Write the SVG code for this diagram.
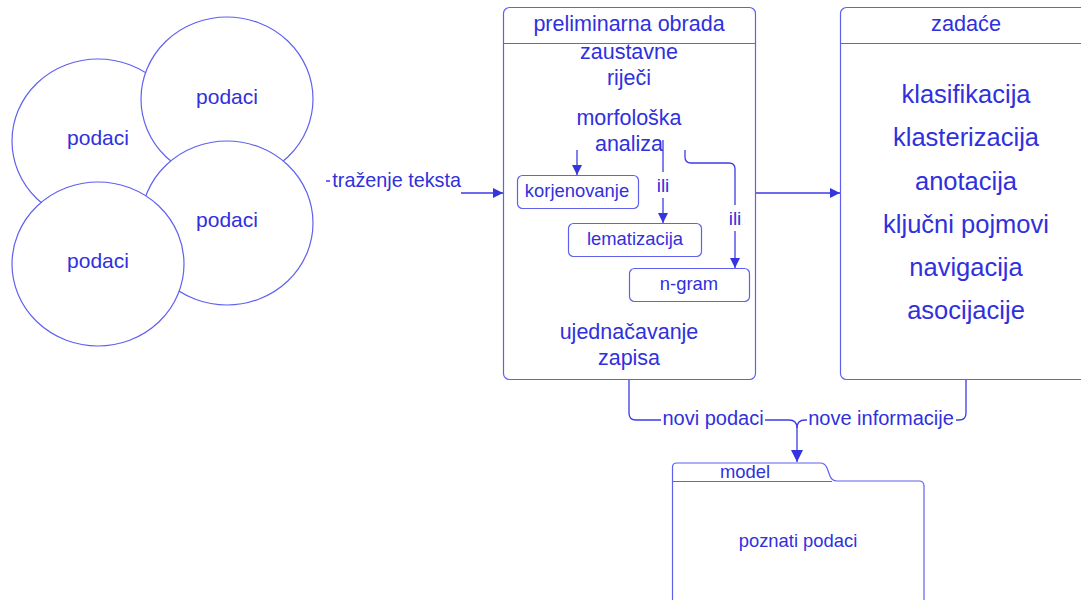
<svg xmlns="http://www.w3.org/2000/svg" width="1081" height="600" viewBox="0 0 1081 600">
<defs>
<marker id="arr" viewBox="0 0 10 10" refX="10" refY="5" markerWidth="12" markerHeight="10" markerUnits="userSpaceOnUse" orient="auto">
<path d="M0,0 L10,5 L0,10 z" fill="#3535e0"/>
</marker>
<marker id="arrL" viewBox="0 0 10 10" refX="10" refY="5" markerWidth="16" markerHeight="12" markerUnits="userSpaceOnUse" orient="auto">
<path d="M0,0 L10,5 L0,10 z" fill="#3535e0"/>
</marker>
</defs>
<style>
text{font-family:"Liberation Sans",Arial,sans-serif;fill:#3030dd;text-anchor:middle;dominant-baseline:central}
.shape{fill:#fff;stroke:#6060f0;stroke-width:1.2}
.conn{fill:none;stroke:#3b3be6;stroke-width:1.3}
.lbl{fill:#fff;stroke:none}
</style>
<rect width="1081" height="600" fill="#fff"/>

<g id="podaci1"><ellipse class="shape" cx="98" cy="141" rx="86" ry="82"/><text x="98" y="137" font-size="21">podaci</text></g>
<g id="podaci2"><ellipse class="shape" cx="227" cy="99" rx="86" ry="82"/><text x="227" y="96" font-size="21">podaci</text></g>
<g id="podaci3"><ellipse class="shape" cx="227" cy="223" rx="86" ry="82"/><text x="227" y="219" font-size="21">podaci</text></g>
<g id="podaci4"><ellipse class="shape" cx="98" cy="264" rx="86" ry="82"/><text x="98" y="260" font-size="21">podaci</text></g>

<g id="preliminarna">
<rect class="shape" x="503.5" y="7.5" width="252" height="372" rx="6"/>
<line class="shape" x1="503.5" y1="43.5" x2="755.5" y2="43.5"/>
<text x="629" y="24" font-size="21.5">preliminarna obrada</text>
<text x="629" y="52" font-size="21.5">zaustavne</text>
<text x="629" y="78" font-size="21.5">riječi</text>
<text x="629" y="118" font-size="21.5">morfološka</text>
<text x="629" y="144" font-size="21.5">analiza</text>
<text x="629" y="332" font-size="21.5">ujednačavanje</text>
<text x="629" y="358" font-size="21.5">zapisa</text>
</g>

<g id="korjenovanje"><rect class="shape" x="517.5" y="175.5" width="121" height="33" rx="5"/><text x="577" y="190" font-size="18.4">korjenovanje</text></g>
<g id="lematizacija"><rect class="shape" x="568.5" y="223.5" width="133" height="33" rx="5"/><text x="635" y="238" font-size="18.4">lematizacija</text></g>
<g id="ngram"><rect class="shape" x="629.5" y="268.5" width="120" height="33" rx="5"/><text x="689" y="283" font-size="18.4">n-gram</text></g>

<g id="zadace">
<rect class="shape" x="840.5" y="7.5" width="252" height="372" rx="6"/>
<line class="shape" x1="840.5" y1="43.5" x2="1092" y2="43.5"/>
<text x="966" y="23" font-size="21.7">zadaće</text>
<text x="966" y="94" font-size="25.5">klasifikacija</text>
<text x="966" y="137" font-size="25.5">klasterizacija</text>
<text x="966" y="181" font-size="25.5">anotacija</text>
<text x="966" y="224" font-size="25.5">ključni pojmovi</text>
<text x="966" y="267" font-size="25.5">navigacija</text>
<text x="966" y="310" font-size="25.5">asocijacije</text>
</g>

<g id="model">
<path class="shape" d="M672.5,600 V467 Q672.5,463 677,463 H820 Q825,463 827,468 L830,476 Q832,481 837,481 H919 Q924,481 924,486 V600"/>
<line class="shape" x1="672.5" y1="481.5" x2="832" y2="481.5"/>
<text x="745" y="471" font-size="18.4">model</text>
<text x="798" y="540" font-size="18.4">poznati podaci</text>
</g>

<g id="connectors">
<path class="conn" d="M326,181 H400 V193 H503" marker-end="url(#arr)"/>
<rect class="lbl" x="330" y="166" width="131" height="30"/>
<text x="461" y="180" font-size="19.8" style="text-anchor:end">traženje teksta</text>

<path class="conn" d="M756,193 H840" marker-end="url(#arr)"/>

<path class="conn" d="M577,150 V175" marker-end="url(#arr)"/>

<path class="conn" d="M663,140 V223" marker-end="url(#arr)"/>
<rect class="lbl" x="653" y="172" width="20" height="26"/>
<text x="663" y="185" font-size="19">ili</text>

<path class="conn" d="M685,150 V157 Q685,163 691,163 H729 Q735,163 735,169 V268" marker-end="url(#arr)"/>
<rect class="lbl" x="725" y="205" width="20" height="26"/>
<text x="735" y="218" font-size="19">ili</text>

<path class="conn" d="M629,380 V413 Q629,420 636,420 H789 Q797,420 797,428 V462" marker-end="url(#arrL)"/>
<path class="conn" d="M966,380 V413 Q966,420 959,420 H805 Q797,420 797,428"/>
<rect class="lbl" x="661" y="406" width="104" height="26"/>
<text x="713" y="418" font-size="20">novi podaci</text>
<rect class="lbl" x="807" y="406" width="149" height="26"/>
<text x="881" y="418" font-size="20">nove informacije</text>
</g>
</svg>
